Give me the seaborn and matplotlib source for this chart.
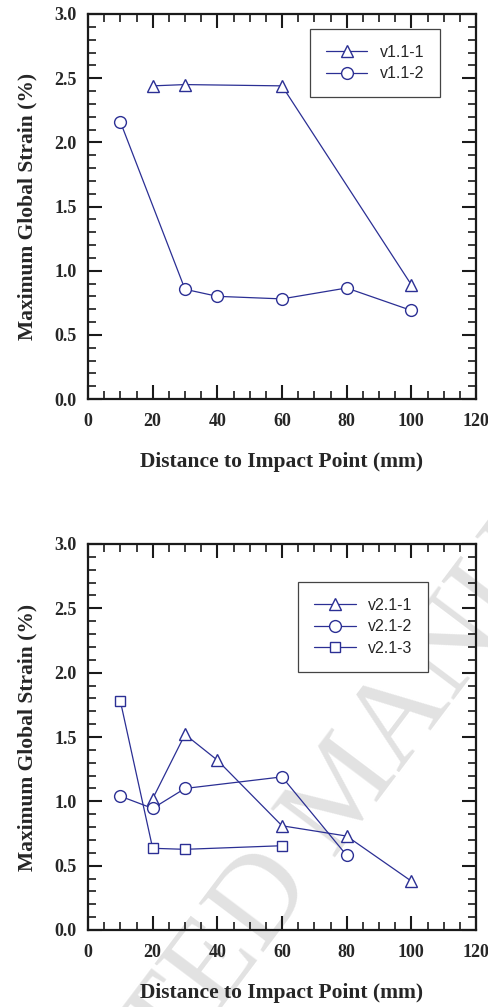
import numpy as np
import pandas as pd
import matplotlib
matplotlib.use("Agg")
import matplotlib.pyplot as plt
from matplotlib.ticker import MultipleLocator, FormatStrFormatter
import seaborn as sns

# ---- data ----
x_v11_1 = [20, 30, 60, 100]
y_v11_1 = [2.44, 2.45, 2.44, 0.89]
x_v11_2 = [10, 30, 40, 60, 80, 100]
y_v11_2 = [2.16, 0.855, 0.80, 0.78, 0.865, 0.69]

x_v21_1 = [20, 30, 40, 60, 80, 100]
y_v21_1 = [1.02, 1.52, 1.32, 0.81, 0.73, 0.38]
x_v21_2 = [10, 20, 30, 60, 80]
y_v21_2 = [1.04, 0.945, 1.10, 1.19, 0.58]
x_v21_3 = [10, 20, 30, 60]
y_v21_3 = [1.78, 0.635, 0.627, 0.655]

labels_top = ["v1.1-1", "v1.1-2"]
labels_bot = ["v2.1-1", "v2.1-2", "v2.1-3"]
xlabel = "Distance to Impact Point (mm)"
ylabel = "Maximum Global Strain (%)"
watermark = "ACCEPTED MANUSCRIPT"

sns.set_style("ticks")
plt.rcParams["font.family"] = ["Liberation Serif", "DejaVu Serif"]

COLOR = "#2B2F94"

fig = plt.figure(figsize=(4.89, 10.07), dpi=100)
ax1 = fig.add_axes([88/489, 1-399/1007, 388/489, 385/1007])
ax2 = fig.add_axes([88/489, 1-930/1007, 388/489, 386/1007])

# watermark
fig.text(348/489, 1-792/1007, watermark, rotation=53,
         ha="center", va="center", fontsize=88, color="#e2e2e2",
         family="Liberation Serif", zorder=-1)

def draw(ax, series, bbox, borderpad):
    ax.set_facecolor("none")
    for (xs, ys, mk, ms, lab) in series:
        sns.lineplot(x=xs, y=ys, ax=ax, color=COLOR, marker=mk, markersize=ms,
                     markerfacecolor="white", markeredgecolor=COLOR,
                     markeredgewidth=1.0, linewidth=0.9, label=lab,
                     estimator=None, sort=False)
    ax.set_xlim(0, 120)
    ax.set_ylim(0, 3)
    ax.xaxis.set_major_locator(MultipleLocator(20))
    ax.xaxis.set_minor_locator(MultipleLocator(5))
    ax.yaxis.set_major_locator(MultipleLocator(0.5))
    ax.yaxis.set_minor_locator(MultipleLocator(0.1))
    ax.yaxis.set_major_formatter(FormatStrFormatter("%.1f"))
    ax.tick_params(which="major", direction="in", length=10, width=1.5,
                   top=True, right=True, pad=8, color="#1a1a1a")
    ax.tick_params(which="minor", direction="in", length=5.5, width=1.2,
                   top=True, right=True, color="#1a1a1a")
    ax.tick_params(axis="x", which="major", pad=10)
    for lbl in ax.get_xticklabels() + ax.get_yticklabels():
        lbl.set_fontweight("bold")
        lbl.set_fontsize(13)
    for sp in ax.spines.values():
        sp.set_linewidth(1.6)
        sp.set_color("#1a1a1a")
        sp.set_visible(True)
    ax.set_xlabel(xlabel, fontsize=15.5, fontweight="bold", labelpad=16)
    ax.set_ylabel(ylabel, fontsize=15.5, fontweight="bold", labelpad=12)
    leg = ax.legend(loc="upper right", bbox_to_anchor=bbox, borderaxespad=0,
                    frameon=True, fancybox=False, edgecolor="#444444",
                    framealpha=1.0,
                    handlelength=2.6, handletextpad=0.75, borderpad=1.0,
                    labelspacing=0.4,
                    prop={"family": "Liberation Sans", "size": 11.5})
    leg.get_frame().set_linewidth(0.9)

draw(ax1, [(x_v11_1, y_v11_1, "^", 8.5, labels_top[0]),
           (x_v11_2, y_v11_2, "o", 8.5, labels_top[1])],
     (0.907, 0.961), 1.0)
draw(ax2, [(x_v21_1, y_v21_1, "^", 8.5, labels_bot[0]),
           (x_v21_2, y_v21_2, "o", 8.5, labels_bot[1]),
           (x_v21_3, y_v21_3, "s", 7.0, labels_bot[2])],
     (0.876, 0.902), 1.0)

fig.savefig("out.png", dpi=100, facecolor="white")
